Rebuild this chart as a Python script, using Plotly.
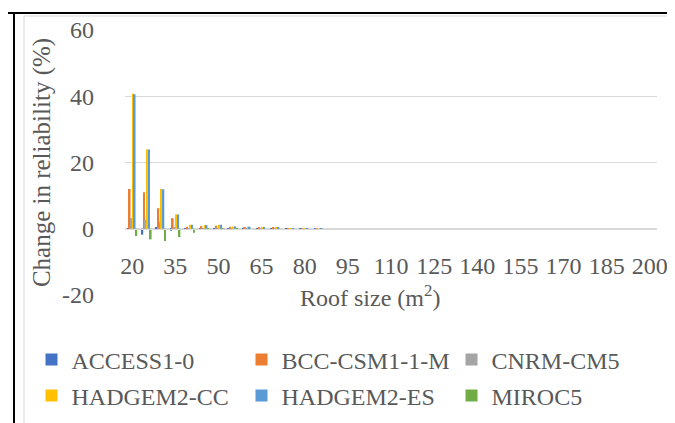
import plotly.graph_objects as go

roof_size = list(range(20, 205, 5))  # 37 categories

access1_0 = [0.2, -1.8, 0.3, -0.6, 0.1, 0.1, 0.1, 0.05, 0.05, -0.1, -0.3, -0.4, -0.2, -0.1] + [0.0] * 23
bcc_csm1_1_m = [12.0, 11.0, 6.2, 3.2, 0.6, 0.8, 0.9, 0.6, 0.5, 0.4, 0.35, 0.2, 0.1, 0.05] + [0.0] * 23
cnrm_cm5 = [3.2, 2.8, 2.1, 0.4, 0.2, 0.1, 0.1, 0.1, 0.05, 0.05, 0.05, 0.0, 0.0, 0.0] + [0.0] * 23
hadgem2_cc = [40.8, 24.0, 12.0, 4.4, 1.2, 1.1, 1.2, 0.7, 0.6, 0.55, 0.35, 0.2, 0.1, 0.05] + [0.0] * 23
hadgem2_es = [40.6, 23.9, 11.9, 4.3, 1.2, 1.1, 1.2, 0.7, 0.6, 0.5, 0.3, 0.15, 0.1, 0.05] + [0.0] * 23
miroc5 = [-2.2, -3.2, -3.7, -2.5, -1.2, -0.2, -0.1, -0.1, 0.0, 0.0, 0.0, 0.0, 0.0, 0.0] + [0.0] * 23

series_names = ["ACCESS1-0", "BCC-CSM1-1-M", "CNRM-CM5", "HADGEM2-CC", "HADGEM2-ES", "MIROC5"]
series_values = [access1_0, bcc_csm1_1_m, cnrm_cm5, hadgem2_cc, hadgem2_es, miroc5]
series_colors = ["#4472C4", "#ED7D31", "#A5A5A5", "#FFC000", "#5B9BD5", "#70AD47"]
legend_ids = ["legend", "legend", "legend", "legend2", "legend2", "legend2"]

y_ticks = [-20, 0, 20, 40, 60]
y_tick_labels = ["-20", "0", "20", "40", "60"]
x_ticks = list(range(20, 205, 15))
x_tick_labels = [str(v) for v in x_ticks]

W, H = 675, 423
L, R, T, B = 117, 649, 22, 287  # plot area in pixels
pw, ph = R - L, B - T

def px(x):
    return (x - L) / pw

def py(y):
    return (B - y) / ph

FONT = "Liberation Serif"
GREY = "#595959"
FS = 24

fig = go.Figure()
for name, vals, col, lg in zip(series_names, series_values, series_colors, legend_ids):
    fig.add_trace(go.Bar(x=roof_size, y=vals, name=name, marker=dict(color=col, line=dict(width=0)),
                         legend=lg))

legend_common = dict(orientation="h", xanchor="left", yanchor="middle",
                     font=dict(family=FONT, size=FS, color=GREY),
                     entrywidth=165, entrywidthmode="pixels", bgcolor="rgba(0,0,0,0)",
                     itemclick=False, itemdoubleclick=False)

fig.update_layout(
    width=W, height=H,
    margin=dict(l=L, r=W - R, t=T, b=H - B, autoexpand=False),
    paper_bgcolor="white", plot_bgcolor="white",
    barmode="group", bargap=0.3, bargroupgap=0.0,
    font=dict(family=FONT, size=FS, color=GREY),
    xaxis=dict(range=[17.5, 202.5], tickvals=x_ticks, ticktext=x_tick_labels,
               anchor="free", position=py(221), showline=True, linecolor="#d9d9d9", linewidth=1,
               showgrid=False, zeroline=False, ticks="", ticklabelstandoff=15,
               tickfont=dict(family=FONT, size=FS, color=GREY)),
    yaxis=dict(range=[-20, 60], tickvals=y_ticks, ticktext=y_tick_labels,
               showgrid=True, gridcolor="#d9d9d9", gridwidth=1,
               zeroline=False, showline=False, ticks="", ticklabelstandoff=30,
               tickfont=dict(family=FONT, size=FS, color=GREY),
               title=dict(text="Change in reliability (%)", font=dict(family=FONT, size=25, color=GREY),
                          standoff=4)),
    legend=dict(x=px(23.5), y=py(352), **legend_common),
    legend2=dict(x=px(23.5), y=py(388), **legend_common),
    annotations=[dict(text="Roof size (m<sup>2</sup>)", x=px(362), y=py(305), xref="paper", yref="paper",
                      showarrow=False, font=dict(family=FONT, size=FS, color=GREY))],
    shapes=[
        dict(type="rect", xref="paper", yref="paper", x0=px(16), x1=px(670), y0=py(8), y1=py(421),
             line=dict(color="#d9d9d9", width=1), fillcolor="rgba(0,0,0,0)", layer="below"),
        dict(type="line", xref="paper", yref="paper", x0=px(0), x1=px(675), y0=py(5), y1=py(5),
             line=dict(color="black", width=2)),
        dict(type="line", xref="paper", yref="paper", x0=px(6), x1=px(6), y0=py(4), y1=py(423),
             line=dict(color="black", width=2)),
    ],
)

fig.write_html("out.html")
